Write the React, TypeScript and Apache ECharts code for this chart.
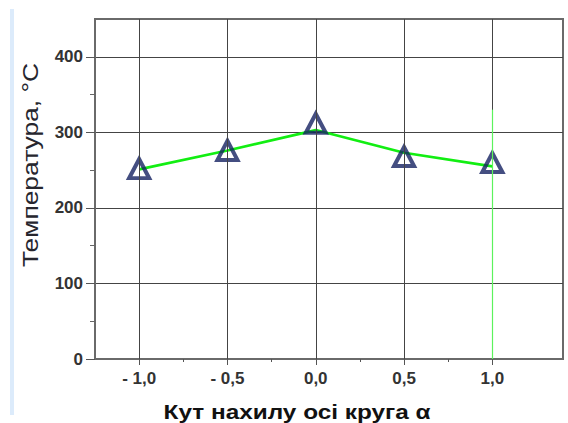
import React, { useEffect, useRef } from "react";
import * as echarts from "echarts";

const xValues = [-1.0, -0.5, 0.0, 0.5, 1.0];
const lineTemps = [251, 276, 303, 273, 255];
const markerTemps = [252, 276, 312, 268, 260];
const xMajorTicks = [-1.0, -0.5, 0.0, 0.5, 1.0];
const xMinorTicks = [-0.75, -0.25, 0.25, 0.75];
const yMajorTicks = [0, 100, 200, 300, 400];
const yMinorTicks = [50, 150, 250, 350];
const yTitle = "Температура, °С";
const xTitle = "Кут нахилу осі круга α";

const fmtX = (v: number) => {
  const s = Math.abs(v).toFixed(1).replace(".", ",");
  return v < 0 ? "- " + s : s;
};

const labelFont = {
  color: "#333",
  fontFamily: "'Liberation Sans Narrow', 'Arial Narrow', 'Liberation Sans', Arial, sans-serif",
  fontWeight: "bold" as const,
  fontSize: 17,
};

export default function App() {
  const ref = useRef<HTMLDivElement>(null);
  useEffect(() => {
    if (!ref.current) return;
    const chart = echarts.init(ref.current, undefined, { renderer: "svg" });
    const xMin = -1.25;
    const xMax = 1.4;
    chart.setOption({
      animation: false,
      backgroundColor: "#fff",
      grid: {
        left: 95,
        top: 19,
        right: 5,
        bottom: 64,
        show: true,
        borderColor: "#6a6a6a",
        borderWidth: 2,
        backgroundColor: "transparent",
      },
      xAxis: [
        {
          type: "value",
          min: xMin,
          max: xMax,
          axisLine: { show: true, onZero: false, lineStyle: { color: "#6a6a6a", width: 2 } },
          axisTick: { show: true, length: 6, customValues: xMajorTicks, lineStyle: { color: "#555", width: 1 } },
          axisLabel: { show: true, margin: 11, customValues: xMajorTicks, formatter: fmtX, ...labelFont },
          splitLine: { show: false },
        },
        {
          type: "value",
          min: xMin,
          max: xMax,
          position: "bottom",
          axisLine: { show: false, onZero: false },
          axisTick: { show: true, length: 3, customValues: xMinorTicks, lineStyle: { color: "#555", width: 1 } },
          axisLabel: { show: false },
          splitLine: { show: false },
        },
      ],
      yAxis: [
        {
          type: "value",
          min: 0,
          max: 450,
          interval: 100,
          axisLine: { show: true, onZero: false, lineStyle: { color: "#6a6a6a", width: 2 } },
          axisTick: { show: true, length: 9, customValues: yMajorTicks, lineStyle: { color: "#555", width: 1 } },
          axisLabel: {
            show: true,
            margin: 12,
            customValues: yMajorTicks,
            formatter: (v: number) => (v % 100 === 0 && v <= 400 ? String(v) : ""),
            ...labelFont,
          },
          splitLine: { show: true, lineStyle: { color: "#444", width: 1 } },
        },
        {
          type: "value",
          min: 0,
          max: 450,
          position: "left",
          axisLine: { show: false, onZero: false },
          axisTick: { show: true, length: 5, customValues: yMinorTicks, lineStyle: { color: "#666", width: 1 } },
          axisLabel: { show: false },
          splitLine: { show: false },
        },
      ],
      graphic: [
        {
          type: "rect",
          shape: { x: 10, y: 9, width: 4, height: 406 },
          style: { fill: "#dcebfb" },
          silent: true,
        },
        {
          type: "text",
          x: 30,
          y: 165,
          rotation: Math.PI / 2,
          scaleX: 1.2,
          style: {
            text: yTitle,
            fill: "#26262e",
            font: "22px 'Liberation Sans', Arial, sans-serif",
            textAlign: "center",
            textVerticalAlign: "middle",
          },
          silent: true,
        },
        {
          type: "text",
          x: 297,
          y: 412,
          scaleX: 1.16,
          style: {
            text: xTitle,
            fill: "#111",
            font: "bold 21px 'Liberation Sans', Arial, sans-serif",
            textAlign: "center",
            textVerticalAlign: "middle",
          },
          silent: true,
        },
      ],
      series: [
        {
          type: "line",
          xAxisIndex: 0,
          yAxisIndex: 0,
          data: [],
          z: 1,
          silent: true,
          markLine: {
            silent: true,
            symbol: "none",
            label: { show: false },
            lineStyle: { color: "#444", width: 1, type: "solid" },
            data: xMajorTicks.map((v) => ({ xAxis: v })),
          },
        },
        {
          type: "line",
          xAxisIndex: 0,
          yAxisIndex: 0,
          data: [],
          z: 2,
          silent: true,
          markLine: {
            silent: true,
            symbol: "none",
            label: { show: false },
            lineStyle: { color: "#5cf25c", width: 1.2, type: "solid" },
            data: [[{ coord: [1.0, 0] }, { coord: [1.0, 330] }]],
          },
        },
        {
          type: "line",
          xAxisIndex: 0,
          yAxisIndex: 0,
          data: xValues.map((x, i) => [x, lineTemps[i]]),
          showSymbol: false,
          lineStyle: { color: "#12ee12", width: 2.7 },
          z: 3,
          silent: true,
        },
        {
          type: "scatter",
          xAxisIndex: 0,
          yAxisIndex: 0,
          data: xValues.map((x, i) => [x, markerTemps[i]]),
          symbol: "triangle",
          symbolSize: [20, 19],
          itemStyle: { color: "rgba(255,255,255,0)", borderColor: "#152262", borderWidth: 4 },
          z: 4,
          silent: true,
        },
      ],
    });
    return () => chart.dispose();
  }, []);
  return <div ref={ref} style={{ width: 568, height: 423, position: "absolute", left: 0, top: 0 }} />;
}
